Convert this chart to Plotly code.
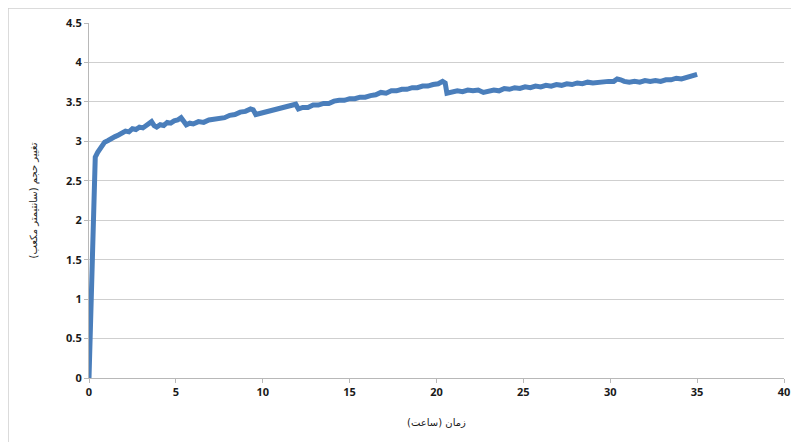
import plotly.graph_objects as go

# Time (hours) and volume change (cm^3)
time_h = [0, 0.08, 0.16, 0.24, 0.3, 0.36, 0.5, 0.7, 0.9, 1.1, 1.3, 1.5, 1.7, 1.9, 2.1, 2.3, 2.5,
          2.7, 2.9, 3.1, 3.3, 3.5, 3.6, 3.75, 3.9, 4.1, 4.3, 4.5, 4.7, 4.9, 5.1, 5.3, 5.45,
          5.6, 5.8, 6.0, 6.3, 6.6, 6.9, 7.2, 7.5, 7.8, 8.1, 8.4, 8.7, 9.0, 9.3, 9.45, 9.6,
          9.8, 10.1, 10.4, 10.7, 11.0, 11.3, 11.6, 11.9, 12.05, 12.3, 12.6, 12.9, 13.2,
          13.5, 13.8, 14.1, 14.4, 14.7, 15.0, 15.3, 15.6, 15.9, 16.2, 16.5, 16.8, 17.1,
          17.4, 17.7, 18.0, 18.3, 18.6, 18.9, 19.2, 19.5, 19.8, 20.1, 20.35, 20.5, 20.6,
          20.9, 21.2, 21.5, 21.8, 22.1, 22.4, 22.7, 23.0, 23.3, 23.6, 23.9, 24.2, 24.5,
          24.8, 25.1, 25.4, 25.7, 26.0, 26.3, 26.6, 26.9, 27.2, 27.5, 27.8, 28.1, 28.4,
          28.7, 29.0, 29.3, 29.6, 29.9, 30.2, 30.4, 30.6, 30.8, 31.1, 31.4, 31.7, 32.0,
          32.3, 32.6, 32.9, 33.2, 33.5, 33.8, 34.1, 34.4, 34.7, 35.0]
volume = [0, 0.7, 1.5, 2.3, 2.72, 2.8, 2.86, 2.93, 2.99, 3.01, 3.04, 3.06, 3.08, 3.1, 3.13, 3.12, 3.16,
          3.15, 3.18, 3.17, 3.2, 3.22, 3.25, 3.2, 3.18, 3.21, 3.2, 3.24, 3.23, 3.26, 3.27, 3.3, 3.26,
          3.21, 3.23, 3.22, 3.25, 3.24, 3.27, 3.28, 3.3, 3.3, 3.33, 3.34, 3.37, 3.38, 3.41, 3.4, 3.34,
          3.35, 3.37, 3.38, 3.41, 3.41, 3.44, 3.45, 3.47, 3.41, 3.43, 3.43, 3.46, 3.46,
          3.48, 3.48, 3.51, 3.52, 3.52, 3.54, 3.54, 3.56, 3.56, 3.58, 3.59, 3.62, 3.61,
          3.64, 3.64, 3.66, 3.66, 3.68, 3.68, 3.7, 3.7, 3.72, 3.73, 3.76, 3.74, 3.61,
          3.62, 3.64, 3.63, 3.65, 3.64, 3.65, 3.62, 3.63, 3.65, 3.64, 3.67, 3.66, 3.68,
          3.67, 3.69, 3.68, 3.7, 3.69, 3.71, 3.7, 3.72, 3.71, 3.73, 3.72, 3.74, 3.73,
          3.75, 3.74, 3.75, 3.75, 3.76, 3.76, 3.79, 3.78, 3.76, 3.75, 3.76, 3.75, 3.77,
          3.76, 3.77, 3.76, 3.78, 3.78, 3.8, 3.79, 3.81, 3.82, 3.85]

x_ticks = [0, 5, 10, 15, 20, 25, 30, 35, 40]
y_ticks = [0, 0.5, 1, 1.5, 2, 2.5, 3, 3.5, 4, 4.5]
y_tick_text = ["0", "0.5", "1", "1.5", "2", "2.5", "3", "3.5", "4", "4.5"]

x_title = "زمان (ساعت)"
y_title = "تغییر حجم (سانتیمتر مکعب)"

# page has an 8px body margin; figure size chosen so the plot lands where the reference has it
OFF = 8
W, H = 791, 434
L, R, T, B = 81, 15, 15, 64

fig = go.Figure()
fig.add_trace(go.Scatter(
    x=time_h, y=volume, mode="lines",
    line=dict(color="#4a7ebb", width=5),
    hoverinfo="skip", showlegend=False,
))

tick_font = dict(family="Open Sans, DejaVu Sans, sans-serif", size=11, color="#1a1a1a", weight="bold")

fig.update_layout(
    width=W, height=H,
    margin=dict(l=L, r=R, t=T, b=B),
    paper_bgcolor="white", plot_bgcolor="white",
    showlegend=False,
    xaxis=dict(
        range=[0, 40], tickvals=x_ticks, ticktext=[str(v) for v in x_ticks],
        showgrid=False, zeroline=False,
        showline=True, linecolor="#b8b8b8", linewidth=1,
        ticks="outside", ticklen=4, tickcolor="#b8b8b8",
        tickfont=tick_font, automargin=False,
        title=dict(text=x_title, font=dict(family="DejaVu Sans, sans-serif", size=10, color="#1a1a1a"), standoff=20),
        fixedrange=True,
    ),
    yaxis=dict(
        range=[0, 4.5], tickvals=y_ticks, ticktext=y_tick_text,
        showgrid=True, gridcolor="#cfcfcf", gridwidth=1, zeroline=False,
        showline=True, linecolor="#b8b8b8", linewidth=1,
        ticks="outside", ticklen=4, tickcolor="#b8b8b8",
        tickfont=tick_font, automargin=False,
        title=dict(text=y_title, font=dict(family="DejaVu Sans, sans-serif", size=10, color="#1a1a1a"), standoff=26),
        fixedrange=True,
    ),
)

# outer chart frame (light grey), converted from window pixel positions to paper coords
pw, ph = W - L - R, H - T - B
def px2x(px):
    return (px - OFF - L) / pw
def py2y(py):
    return (OFF + H - B - py) / ph

fig.add_shape(type="rect", xref="paper", yref="paper",
              x0=px2x(8), x1=px2x(796), y0=py2y(446), y1=py2y(8),
              line=dict(color="#d0d0d0", width=1.5), fillcolor="rgba(0,0,0,0)", layer="below")

fig.write_html("out.html")
